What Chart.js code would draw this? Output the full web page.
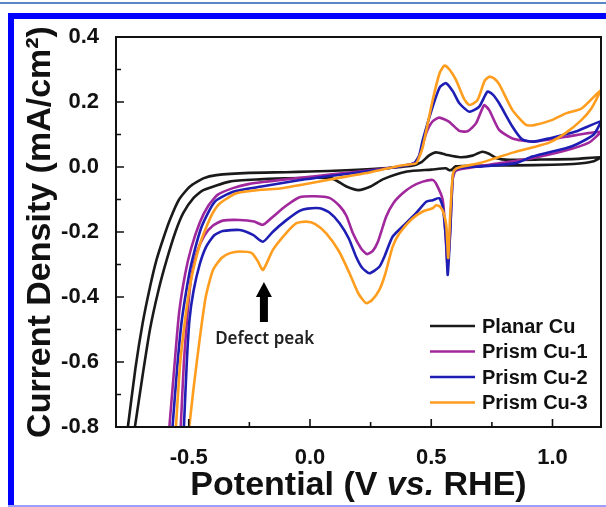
<!DOCTYPE html>
<html lang="en">
<head>
  <meta charset="UTF-8">
  <title>CV of Cu electrodes</title>
  <script src="https://cdn.jsdelivr.net/npm/chart.js"></script>
  <style>
    html, body { margin: 0; padding: 0; background: #fff; }
    .wrap { position: relative; width: 606px; height: 507px; overflow: hidden; }
    .topline { position: absolute; left: 0; top: 2px; width: 606px; height: 2px; background: #5b86c4; }
    .frame { position: absolute; left: 8px; top: 13px; width: 620px; height: 520px; border-left: 6px solid #0000ff; border-top: 6px solid #0000ff; }
    .botline { position: absolute; left: 8px; top: 505px; width: 600px; height: 2px; background: #9d9dfc; }
    canvas { position: absolute; left: 0; top: 0; }
  </style>
</head>
<body>
  <div class="wrap">
    <div class="topline"></div>
    <div class="frame"></div>
    <div class="botline"></div>
    <canvas id="cv" width="606" height="507"></canvas>
  </div>

  <script>
    // Potential (V vs. RHE) and current density (mA/cm2).
    // Each loop: forward scan left -> right, then back scan right -> left.
    const planarV = [-0.751, -0.72, -0.69, -0.66, -0.633, -0.605, -0.578, -0.54, -0.495, -0.44, -0.386, -0.25, -0.1, 0.0, 0.15, 0.3, 0.42, 0.46, 0.49, 0.52, 0.56, 0.62, 0.67, 0.71, 0.74, 0.77, 0.82, 0.95, 1.1, 1.2,
                     1.17, 1.1, 1.0, 0.85, 0.7, 0.6, 0.585, 0.575, 0.56, 0.5, 0.4, 0.3, 0.25, 0.2, 0.15, 0.09, 0.0, -0.1, -0.207, -0.331, -0.44, -0.48, -0.523, -0.555, -0.591, -0.625, -0.66, -0.69, -0.722];
    const planarJ = [-0.8, -0.62, -0.48, -0.37, -0.286, -0.22, -0.163, -0.1, -0.06, -0.035, -0.025, -0.018, -0.016, -0.014, -0.01, -0.004, 0.004, 0.015, 0.035, 0.045, 0.038, 0.03, 0.035, 0.047, 0.04, 0.027, 0.022, 0.023, 0.025, 0.03,
                     0.018, 0.01, 0.007, 0.005, 0.004, 0.002, -0.008, -0.01, -0.004, -0.008, -0.014, -0.038, -0.06, -0.071, -0.06, -0.035, -0.033, -0.035, -0.038, -0.045, -0.071, -0.095, -0.142, -0.2, -0.286, -0.38, -0.5, -0.64, -0.8];

    const prism1V = [-0.58, -0.56, -0.54, -0.515, -0.49, -0.454, -0.42, -0.38, -0.318, -0.25, -0.179, -0.04, 0.1, 0.25, 0.38, 0.43, 0.451, 0.479, 0.505, 0.533, 0.574, 0.616, 0.65, 0.685, 0.718, 0.739, 0.78, 0.835, 0.917, 1.055, 1.2,
                     1.15, 1.05, 0.9, 0.75, 0.643, 0.6, 0.588, 0.578, 0.568, 0.558, 0.547, 0.52, 0.506, 0.465, 0.42, 0.382, 0.345, 0.314, 0.28, 0.259, 0.235, 0.21, 0.177, 0.15, 0.122, 0.08, 0.02, -0.043, -0.1, -0.153, -0.194, -0.23, -0.29, -0.36, -0.4, -0.435, -0.465, -0.49, -0.505, -0.52, -0.533];
    const prism1J = [-0.8, -0.62, -0.45, -0.33, -0.25, -0.17, -0.12, -0.085, -0.065, -0.052, -0.045, -0.033, -0.022, -0.01, 0.003, 0.012, 0.035, 0.104, 0.14, 0.152, 0.139, 0.111, 0.11, 0.135, 0.19, 0.175, 0.114, 0.088, 0.078, 0.093, 0.108,
                     0.075, 0.05, 0.025, 0.008, -0.004, -0.012, -0.04, -0.2, -0.31, -0.2, -0.1, -0.051, -0.04, -0.045, -0.06, -0.081, -0.11, -0.153, -0.23, -0.258, -0.268, -0.25, -0.204, -0.15, -0.12, -0.095, -0.09, -0.093, -0.12, -0.153, -0.178, -0.168, -0.163, -0.165, -0.18, -0.21, -0.26, -0.34, -0.45, -0.6, -0.8];

    const prism2V = [-0.567, -0.548, -0.53, -0.51, -0.49, -0.447, -0.393, -0.317, -0.2, -0.04, 0.1, 0.25, 0.38, 0.43, 0.45, 0.465, 0.506, 0.535, 0.561, 0.59, 0.616, 0.657, 0.698, 0.732, 0.755, 0.78, 0.835, 0.875, 0.92, 0.986, 1.1, 1.2,
                     1.17, 1.1, 1.055, 0.917, 0.849, 0.712, 0.62, 0.595, 0.588, 0.578, 0.568, 0.561, 0.547, 0.533, 0.506, 0.479, 0.44, 0.396, 0.341, 0.31, 0.286, 0.245, 0.215, 0.19, 0.16, 0.122, 0.08, 0.04, -0.01, -0.043, -0.1, -0.153, -0.194, -0.235, -0.29, -0.36, -0.395, -0.428, -0.455, -0.48, -0.497, -0.508, -0.52];
    const prism2J = [-0.8, -0.62, -0.48, -0.38, -0.3, -0.184, -0.107, -0.076, -0.06, -0.04, -0.026, -0.012, 0.003, 0.012, 0.035, 0.083, 0.186, 0.245, 0.258, 0.232, 0.196, 0.17, 0.186, 0.232, 0.222, 0.196, 0.124, 0.085, 0.078, 0.088, 0.11, 0.14,
                     0.1, 0.07, 0.058, 0.032, 0.012, 0.002, -0.003, -0.012, -0.04, -0.2, -0.332, -0.225, -0.122, -0.096, -0.102, -0.107, -0.14, -0.173, -0.214, -0.27, -0.307, -0.327, -0.31, -0.276, -0.22, -0.173, -0.14, -0.127, -0.128, -0.135, -0.165, -0.199, -0.23, -0.209, -0.194, -0.197, -0.21, -0.245, -0.3, -0.38, -0.47, -0.6, -0.8];

    const prism3V = [-0.553, -0.535, -0.515, -0.5, -0.482, -0.455, -0.427, -0.4, -0.372, -0.303, -0.2, -0.125, 0.0, 0.1, 0.25, 0.369, 0.437, 0.45, 0.465, 0.506, 0.535, 0.555, 0.575, 0.602, 0.635, 0.657, 0.69, 0.72, 0.739, 0.76, 0.78, 0.835, 0.89, 0.92, 1.0, 1.055, 1.12, 1.2,
                     1.16, 1.12, 1.055, 0.986, 0.916, 0.84, 0.767, 0.7, 0.62, 0.595, 0.588, 0.578, 0.57, 0.562, 0.55, 0.536, 0.52, 0.506, 0.465, 0.42, 0.369, 0.341, 0.31, 0.286, 0.255, 0.232, 0.2, 0.163, 0.12, 0.067, 0.02, -0.015, -0.056, -0.1, -0.153, -0.194, -0.215, -0.24, -0.29, -0.33, -0.365, -0.4, -0.43, -0.455, -0.48, -0.498];
    const prism3J = [-0.8, -0.6, -0.47, -0.39, -0.317, -0.24, -0.184, -0.14, -0.112, -0.081, -0.07, -0.066, -0.05, -0.036, -0.016, 0.004, 0.011, 0.03, 0.062, 0.206, 0.29, 0.312, 0.3, 0.268, 0.21, 0.191, 0.205, 0.265, 0.278, 0.272, 0.255, 0.175, 0.13, 0.128, 0.145, 0.165, 0.18, 0.237,
                     0.18, 0.145, 0.105, 0.075, 0.06, 0.045, 0.028, 0.012, 0.0, -0.01, -0.03, -0.15, -0.28, -0.18, -0.14, -0.122, -0.118, -0.127, -0.137, -0.16, -0.204, -0.245, -0.33, -0.378, -0.41, -0.419, -0.39, -0.327, -0.26, -0.204, -0.175, -0.168, -0.173, -0.205, -0.255, -0.317, -0.29, -0.265, -0.26, -0.265, -0.28, -0.317, -0.4, -0.53, -0.68, -0.8];

    const seriesNames = ["Planar Cu", "Prism Cu-1", "Prism Cu-2", "Prism Cu-3"];
    const xTicks = [-0.5, 0.0, 0.5, 1.0];
    const xMinor = [-0.75, -0.25, 0.25, 0.75];
    const yTicks = [-0.8, -0.6, -0.4, -0.2, 0.0, 0.2, 0.4];
    const yMinor = [-0.7, -0.5, -0.3, -0.1, 0.1, 0.3];

    const colors = ["#1a1a1a", "#a0289c", "#1e1eb4", "#ff9d1e"];
    const loops = [[planarV, planarJ], [prism1V, prism1J], [prism2V, prism2J], [prism3V, prism3J]];

    const datasets = loops.map(([v, j], i) => ({
      label: seriesNames[i],
      data: v.map((x, k) => ({ x: x, y: j[k] })),
      borderColor: colors[i],
      backgroundColor: colors[i],
      borderWidth: 2.6,
      pointRadius: 0,
      showLine: true,
      tension: 0.2,
      order: 3 - i,
    }));

    const FONT = "'Liberation Sans', Arial, sans-serif";

    // box, inward ticks, legend, x title and the defect-peak note
    const decor = {
      id: "decor",
      afterDatasetsDraw(chart) {
        const { ctx, chartArea: a, scales } = chart;
        const xs = scales.x, ys = scales.y;
        ctx.save();
        ctx.strokeStyle = "#111";
        ctx.lineWidth = 2;
        ctx.strokeRect(a.left, a.top, a.right - a.left, a.bottom - a.top);

        ctx.lineWidth = 1.6;
        ctx.beginPath();
        yTicks.forEach(v => { const p = ys.getPixelForValue(v); ctx.moveTo(a.left, p); ctx.lineTo(a.left + 8, p); });
        yMinor.forEach(v => { const p = ys.getPixelForValue(v); ctx.moveTo(a.left, p); ctx.lineTo(a.left + 5, p); });
        xTicks.forEach(v => { const p = xs.getPixelForValue(v); ctx.moveTo(p, a.bottom); ctx.lineTo(p, a.bottom - 8); });
        xMinor.forEach(v => { const p = xs.getPixelForValue(v); ctx.moveTo(p, a.bottom); ctx.lineTo(p, a.bottom - 5); });
        ctx.stroke();

        // legend
        ctx.font = "bold 20px " + FONT;
        ctx.textBaseline = "middle";
        ctx.textAlign = "left";
        chart.data.datasets.forEach((ds, i) => {
          const y = a.bottom - 101 + i * 25.5;
          ctx.strokeStyle = ds.borderColor;
          ctx.lineWidth = 2.6;
          ctx.beginPath();
          ctx.moveTo(a.right - 171, y);
          ctx.lineTo(a.right - 126, y);
          ctx.stroke();
          ctx.fillStyle = "#111";
          ctx.fillText(ds.label, a.right - 119, y + 1);
        });

        // defect peak arrow
        const ax = xs.getPixelForValue(-0.19);
        const tip = ys.getPixelForValue(-0.354);
        const base = ys.getPixelForValue(-0.477);
        ctx.fillStyle = "#000";
        ctx.beginPath();
        ctx.moveTo(ax, tip);
        ctx.lineTo(ax + 8, tip + 15);
        ctx.lineTo(ax + 4, tip + 15);
        ctx.lineTo(ax + 4, base);
        ctx.lineTo(ax - 4, base);
        ctx.lineTo(ax - 4, tip + 15);
        ctx.lineTo(ax - 8, tip + 15);
        ctx.closePath();
        ctx.fill();
        ctx.font = "600 17px 'Noto Sans', sans-serif";
        ctx.textAlign = "center";
        ctx.fillStyle = "#222";
        ctx.fillText("Defect peak", xs.getPixelForValue(-0.187), ys.getPixelForValue(-0.529));

        // x axis title with italic "vs."
        const parts = [["Potential (V ", "bold 34px "], ["vs.", "italic bold 34px "], [" RHE)", "bold 34px "]];
        let total = 0;
        parts.forEach(p => { ctx.font = p[1] + FONT; total += ctx.measureText(p[0]).width; });
        let tx = (a.left + a.right) / 2 - total / 2;
        ctx.textAlign = "left";
        ctx.textBaseline = "alphabetic";
        ctx.fillStyle = "#111";
        parts.forEach(p => { ctx.font = p[1] + FONT; ctx.fillText(p[0], tx, 495); tx += ctx.measureText(p[0]).width; });
        ctx.restore();
      }
    };

    new Chart(document.getElementById("cv"), {
      type: "scatter",
      data: { datasets: datasets },
      plugins: [decor],
      options: {
        responsive: false,
        animation: false,
        layout: { padding: { top: 37, right: 5, bottom: 0, left: 0 } },
        plugins: { legend: { display: false }, tooltip: { enabled: false } },
        scales: {
          x: {
            type: "linear",
            min: -0.8,
            max: 1.2,
            grid: { display: false },
            border: { display: false },
            afterFit: s => { s.height = 80; },
            afterBuildTicks: s => { s.ticks = xTicks.map(v => ({ value: v })); },
            ticks: {
              padding: 10,
              color: "#111",
              font: { family: FONT, size: 22, weight: "bold" },
              callback: v => v.toFixed(1),
            },
          },
          y: {
            min: -0.8,
            max: 0.4,
            grid: { display: false },
            border: { display: false },
            afterFit: s => { s.width = 116; },
            afterBuildTicks: s => { s.ticks = yTicks.map(v => ({ value: v })); },
            ticks: {
              padding: 9,
              color: "#111",
              font: { family: FONT, size: 22, weight: "bold" },
              callback: v => v.toFixed(1),
            },
            title: {
              display: true,
              text: "Current Density (mA/cm\u00B2)",
              color: "#111",
              padding: { top: 20, bottom: 0 },
              font: { family: FONT, size: 34, weight: "bold" },
            },
          },
        },
      },
    });
  </script>
</body>
</html>
